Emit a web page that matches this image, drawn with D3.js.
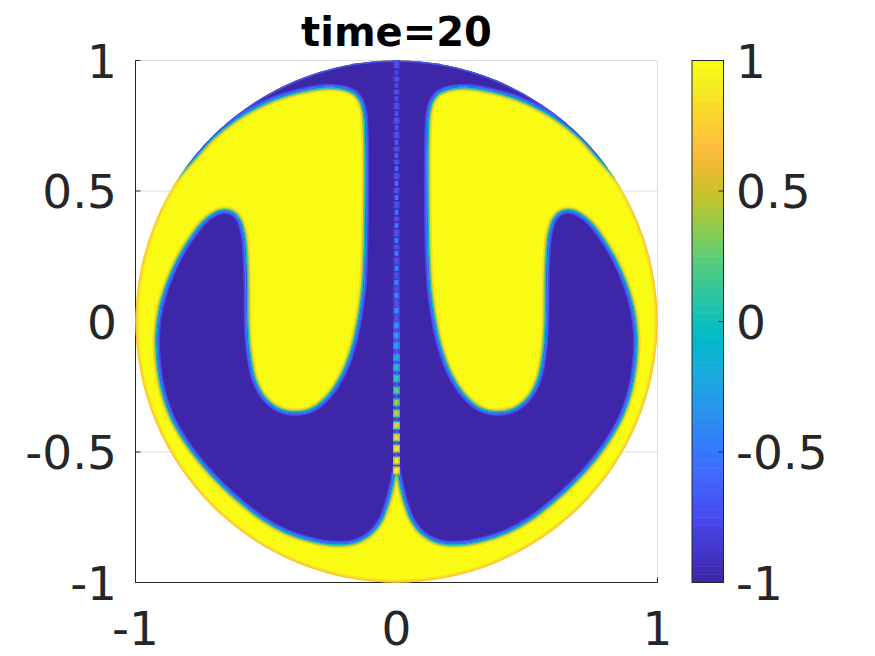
<!DOCTYPE html>
<html>
<head>
<meta charset="utf-8">
<script src="https://cdn.jsdelivr.net/npm/d3@7"></script>
<style>
  body { margin: 0; background: #fff; }
  svg { display: block; font-family: "DejaVu Sans", sans-serif; }
</style>
</head>
<body>
<div id="chart"></div>
<script>
// ticks and labels
var xTicks = [-1, 0, 1];
var xTickLabels = ["-1", "0", "1"];
var yTicks = [-1, -0.5, 0, 0.5, 1];
var yTickLabels = ["-1", "-0.5", "0", "0.5", "1"];
var cbTicks = [-1, -0.5, 0, 0.5, 1];
var cbTickLabels = ["-1", "-0.5", "0", "0.5", "1"];
var titleText = "time=20";

// phase values: u = 1 (yellow) fills the disc, u = -1 (blue) inside the outline
var uOutside = 1;
var uInside = -1;

// outline of the right-hand u=-1 region [x, y] (left one is its mirror)
var blueOutline = [
  [0, 1.096], [0.282, 1.096], [0.626, 1.040], [0.971, 0.695], [0.93, 0.43],
  [0.856, 0.535], [0.780, 0.622], [0.703, 0.706], [0.626, 0.768], [0.550, 0.815],
  [0.462, 0.855], [0.370, 0.882], [0.270, 0.898], [0.200, 0.892], [0.158, 0.873],
  [0.135, 0.842], [0.123, 0.795], [0.118, 0.70], [0.117, 0.55], [0.118, 0.40],
  [0.121, 0.25], [0.128, 0.12], [0.142, 0.02], [0.165, -0.09], [0.205, -0.20],
  [0.26, -0.285], [0.32, -0.335], [0.385, -0.350], [0.45, -0.337], [0.505, -0.295],
  [0.545, -0.22], [0.566, -0.11], [0.573, 0.0], [0.574, 0.12], [0.577, 0.24],
  [0.585, 0.33], [0.603, 0.39], [0.630, 0.418], [0.662, 0.424], [0.695, 0.414],
  [0.740, 0.380], [0.790, 0.315], [0.835, 0.24], [0.875, 0.15], [0.905, 0.05],
  [0.918, -0.05], [0.914, -0.16], [0.895, -0.27], [0.862, -0.365], [0.808, -0.46],
  [0.740, -0.55], [0.670, -0.625], [0.595, -0.693], [0.512, -0.757], [0.425, -0.805],
  [0.33, -0.837], [0.24, -0.852], [0.16, -0.845], [0.10, -0.812], [0.06, -0.762],
  [0.034, -0.695], [0.015, -0.62], [0.004, -0.565], [0, -0.55]
];

// values along the x=0 line
var centerY = [0.954, 0.904, 0.854, 0.797, 0.743, 0.686, 0.636, 0.586, 0.529, 0.475,
  0.418, 0.368, 0.310, 0.261, 0.203, 0.149, 0.100, 0.042, -0.015, -0.054,
  -0.092, -0.138, -0.176, -0.218, -0.264, -0.310, -0.352, -0.398, -0.444, -0.487,
  -0.533, -0.571];
var centerU = [-0.8, -0.78, -0.75, -0.72, -0.7, -0.68, -0.66, -0.62, -0.6, -0.58,
  -0.55, -0.52, -0.5, -0.48, -0.45, -0.42, -0.38, -0.33, -0.25, -0.2,
  -0.12, -0.05, 0.05, 0.15, 0.3, 0.45, 0.6, 0.7, 0.8, 0.85,
  0.9, 0.95];

// parula colormap
var parulaStops = [0, 0.111, 0.206, 0.238, 0.333, 0.397, 0.460, 0.492, 0.556, 0.619,
  0.683, 0.746, 0.810, 0.841, 0.905, 0.968, 1];
var parulaColors = ["#3e26a8", "#4747eb", "#4269fe", "#3875fe", "#2796eb", "#1ca9df",
  "#01b8ca", "#0bbdbc", "#31c69f", "#57cc7a", "#8fcb4e", "#c5c22a", "#f0ba36",
  "#febe3c", "#fad62d", "#f6ef20", "#f9fb15"];

var W = 875, H = 656;
var axisColor = "#262626";
var gridColor = "#dedede";

var color = d3.scaleLinear()
  .domain(parulaStops.map(function(t) { return -1 + 2 * t; }))
  .range(parulaColors)
  .clamp(true);

var x = d3.scaleLinear().domain([-1, 1]).range([135.5, 657.5]);
var y = d3.scaleLinear().domain([-1, 1]).range([582.5, 60.5]);
var cb = d3.scaleLinear().domain([-1, 1]).range([582.5, 60.5]);
var cbLeft = 692, cbRight = 723.5;

var svg = d3.select("#chart").append("svg")
  .attr("width", W).attr("height", H);
svg.append("rect").attr("width", W).attr("height", H).attr("fill", "#fff");

// grid
svg.append("g").selectAll("line").data(yTicks).enter().append("line")
  .attr("x1", x(-1)).attr("x2", x(1))
  .attr("y1", function(d) { return y(d); }).attr("y2", function(d) { return y(d); })
  .attr("stroke", gridColor);
svg.append("g").selectAll("line").data(xTicks).enter().append("line")
  .attr("y1", y(-1)).attr("y2", y(1))
  .attr("x1", function(d) { return x(d); }).attr("x2", function(d) { return x(d); })
  .attr("stroke", gridColor);

// axes lines + ticks (under the data)
svg.append("line").attr("x1", x(-1)).attr("x2", x(-1)).attr("y1", y(1)).attr("y2", y(-1))
  .attr("stroke", axisColor);
svg.append("line").attr("x1", x(-1)).attr("x2", x(1)).attr("y1", y(-1)).attr("y2", y(-1))
  .attr("stroke", axisColor);
svg.append("g").selectAll("line").data(yTicks).enter().append("line")
  .attr("x1", x(-1)).attr("x2", x(-1) + 5)
  .attr("y1", function(d) { return y(d); }).attr("y2", function(d) { return y(d); })
  .attr("stroke", axisColor);
svg.append("g").selectAll("line").data(xTicks).enter().append("line")
  .attr("y1", y(-1)).attr("y2", y(-1) - 5)
  .attr("x1", function(d) { return x(d); }).attr("x2", function(d) { return x(d); })
  .attr("stroke", axisColor);

// field
var R = x(1) - x(0);
var outlines = [blueOutline, blueOutline.map(function(p) { return [-p[0], p[1]]; })];
var line = d3.line()
  .x(function(d) { return x(d[0]); })
  .y(function(d) { return y(d[1]); })
  .curve(d3.curveCatmullRom.alpha(0.5));
var pathOf = function(d) { return line(d) + "Z"; };

var defs = svg.append("defs");
defs.append("clipPath").attr("id", "disc")
  .append("circle").attr("cx", x(0)).attr("cy", y(0)).attr("r", R);
defs.append("clipPath").attr("id", "blueclip")
  .selectAll("path").data(outlines).enter().append("path").attr("d", pathOf);

var field = svg.append("g").attr("clip-path", "url(#disc)");
field.append("circle").attr("cx", x(0)).attr("cy", y(0)).attr("r", R)
  .attr("fill", color(uOutside));
field.append("circle").attr("cx", x(0)).attr("cy", y(0)).attr("r", R)
  .attr("fill", "none").attr("stroke", color(0.85)).attr("stroke-width", 6);
field.append("circle").attr("cx", x(0)).attr("cy", y(0)).attr("r", R)
  .attr("fill", "none").attr("stroke", color(0.68)).attr("stroke-width", 2);

// interface, yellow side
[[9, color(0.82)], [5.6, color(0.35)], [3, color(0.0)]].forEach(function(s) {
  field.append("g").selectAll("path").data(outlines).enter().append("path")
    .attr("d", pathOf).attr("fill", "none")
    .attr("stroke", s[1]).attr("stroke-width", s[0]).attr("stroke-linejoin", "round");
});
field.append("g").selectAll("path").data(outlines).enter().append("path")
  .attr("d", pathOf).attr("fill", color(uInside));

// interface, blue side
var inner = field.append("g").attr("clip-path", "url(#blueclip)");
[[6.5, color(-0.8)], [3.4, color(-0.5)]].forEach(function(s) {
  inner.append("g").selectAll("path").data(outlines).enter().append("path")
    .attr("d", pathOf).attr("fill", "none")
    .attr("stroke", s[1]).attr("stroke-width", s[0]);
});
inner.append("circle").attr("cx", x(0)).attr("cy", y(0)).attr("r", R)
  .attr("fill", "none").attr("stroke", color(-0.7)).attr("stroke-width", 3);

// center line
field.append("line").attr("x1", x(0)).attr("x2", x(0))
  .attr("y1", y(1)).attr("y2", y(centerY[centerY.length - 1]))
  .attr("stroke", color(-0.85)).attr("stroke-width", 7);
field.append("line").attr("x1", x(0)).attr("x2", x(0))
  .attr("y1", y(1)).attr("y2", y(centerY[centerY.length - 1]))
  .attr("stroke", color(-0.7)).attr("stroke-width", 3);
var cells = field.append("g").selectAll("g").data(centerY).enter().append("g");
cells.append("rect")
  .attr("x", x(0) - 3.5).attr("width", 7)
  .attr("y", function(d) { return y(d) - 4; }).attr("height", 8)
  .attr("fill", function(d, i) { return color(centerU[i] - 0.45); });
cells.append("rect")
  .attr("x", x(0) - 2).attr("width", 4)
  .attr("y", function(d) { return y(d) - 2.5; }).attr("height", 5)
  .attr("fill", function(d, i) { return color(centerU[i]); });

// colorbar
var nLevels = 64;
svg.append("g").selectAll("rect").data(d3.range(nLevels)).enter().append("rect")
  .attr("x", cbLeft).attr("width", cbRight - cbLeft)
  .attr("y", function(i) { return cb(-1 + 2 * (i + 1) / nLevels); })
  .attr("height", function(i) { return cb(-1 + 2 * i / nLevels) - cb(-1 + 2 * (i + 1) / nLevels) + 0.5; })
  .attr("fill", function(i) { return color(-1 + 2 * i / (nLevels - 1)); });
svg.append("rect").attr("x", cbLeft).attr("y", cb(1))
  .attr("width", cbRight - cbLeft).attr("height", cb(-1) - cb(1))
  .attr("fill", "none").attr("stroke", axisColor);
svg.append("g").selectAll("line").data(cbTicks).enter().append("line")
  .attr("x1", cbRight - 5).attr("x2", cbRight)
  .attr("y1", function(d) { return cb(d); }).attr("y2", function(d) { return cb(d); })
  .attr("stroke", axisColor);

// labels
var fs = 47;
svg.append("g").selectAll("text").data(yTicks).enter().append("text")
  .attr("x", 117).attr("y", function(d) { return y(d) + 0.365 * fs; })
  .attr("text-anchor", "end").attr("font-size", fs).attr("fill", axisColor)
  .text(function(d, i) { return yTickLabels[i]; });
svg.append("g").selectAll("text").data(xTicks).enter().append("text")
  .attr("x", function(d) { return x(d); }).attr("y", 645)
  .attr("text-anchor", "middle").attr("font-size", fs).attr("fill", axisColor)
  .text(function(d, i) { return xTickLabels[i]; });
svg.append("g").selectAll("text").data(cbTicks).enter().append("text")
  .attr("x", 736).attr("y", function(d) { return cb(d) + 0.365 * fs; })
  .attr("text-anchor", "start").attr("font-size", fs).attr("fill", axisColor)
  .text(function(d, i) { return cbTickLabels[i]; });

svg.append("text")
  .attr("x", (x(-1) + x(1)) / 2).attr("y", 46)
  .attr("text-anchor", "middle").attr("font-size", 40).attr("font-weight", "bold")
  .attr("fill", "#000")
  .text(titleText);
</script>
</body>
</html>
